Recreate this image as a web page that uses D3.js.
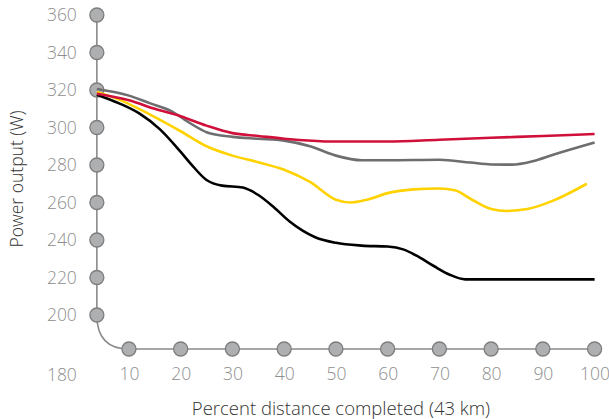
<!DOCTYPE html>
<html><head><meta charset="utf-8">
<script src="https://cdn.jsdelivr.net/npm/d3@7"></script>
<style>
body{margin:0;background:#fff;}
svg text{font-family:"Open Sans","Noto Sans",sans-serif;}
</style></head>
<body><svg id="c" width="609" height="419"></svg>
<script>
const yTicks = [200,220,240,260,280,300,320,340,360];
const xTicks = [10,20,30,40,50,60,70,80,90,100];
const xStart = 3.8;

const blackX = [3.8,8,12,16,20,22,25,28,32,35,38,41,46,50,55,60,63,66,69,72,75,80,90,100];
const blackY = [317.5,313,307.5,299,287,280.5,272,269,268,264,257.5,250,241.5,238.5,237,236.5,235,231,226,221.5,219,219,219,219];
const yellowX = [3.8,8,14,20,25,30,35,40,45,50,53,56,60,65,70,73,76,80,83,87,92,98.5];
const yellowY = [319,315,307,298,290,285,281.5,277.5,271,261.5,260,261.5,265,267,267.5,266.5,262,256.5,255.5,256.5,261,270];
const grayX = [3.8,10,14,18,22,25,30,35,40,45,50,55,60,70,76,80,84,88,92,100];
const grayY = [320.5,317,313,309,302,297.5,295,294,293,290,285,282.5,282.5,282.8,281.3,280.3,280.2,282,285.5,292];
const redX = [3.8,10,15,20,25,30,35,40,50,60,70,80,90,100];
const redY = [318,314.5,310,306,301,297,295.5,294,292.5,292.5,293.5,294.5,295.5,296.5];

const svg = d3.select("#c");
const x = d3.scaleLinear().domain([0,100]).range([77.2,594.6]);
const y = d3.scaleLinear().domain([180,360]).range([352.5,15]);
const axisY = 349;
const x0 = x(xStart);

const labelColor = "#8e8e8e";
const ax = svg.append("g");
ax.append("line").attr("x1",x0).attr("x2",x0).attr("y1",y(360)).attr("y2",y(200))
  .attr("stroke","#8a8a8a").attr("stroke-width",1.6);
ax.append("path").attr("d",`M${x0},${y(200)} Q${x0},${axisY} ${x(10)},${axisY}`)
  .attr("fill","none").attr("stroke","#8a8a8a").attr("stroke-width",1.6);
ax.append("line").attr("x1",x(10)).attr("x2",x(100)).attr("y1",axisY).attr("y2",axisY)
  .attr("stroke","#8a8a8a").attr("stroke-width",1.6);

const gy = svg.append("g").attr("transform",`translate(${x0},0)`)
  .call(d3.axisLeft(y).tickValues([180].concat(yTicks)).tickSize(0).tickPadding(20));
gy.select(".domain").remove();
gy.selectAll("text").attr("font-size",17.5).attr("fill",labelColor).attr("font-weight",300)
  .attr("font-family","'Open Sans',sans-serif");
gy.selectAll(".tick").filter(d=>d===180).attr("transform",`translate(0,${axisY+26})`);

const gx = svg.append("g").attr("transform",`translate(0,${axisY})`)
  .call(d3.axisBottom(x).tickValues(xTicks).tickSize(0).tickPadding(19));
gx.select(".domain").remove();
gx.selectAll("text").attr("font-size",17.5).attr("fill",labelColor).attr("font-weight",300)
  .attr("font-family","'Open Sans',sans-serif");

ax.selectAll("circle.y").data(yTicks).join("circle").attr("class","y")
  .attr("cx",x0).attr("cy",d=>y(d)).attr("r",7)
  .attr("fill","#aeafb1").attr("stroke","#7d7d7d").attr("stroke-width",1.3);
ax.selectAll("circle.x").data(xTicks).join("circle").attr("class","x")
  .attr("cx",d=>x(d)).attr("cy",axisY).attr("r",7)
  .attr("fill","#aeafb1").attr("stroke","#7d7d7d").attr("stroke-width",1.3);

const line = d3.line().x(d=>x(d[0])).y(d=>y(d[1])).curve(d3.curveMonotoneX);
const series = [
  {xs:blackX, ys:blackY, c:"#000000"},
  {xs:yellowX, ys:yellowY, c:"#ffd200"},
  {xs:grayX, ys:grayY, c:"#6e6e70"},
  {xs:redX, ys:redY, c:"#d0103a"}
];
svg.append("g").selectAll("path").data(series).join("path")
  .attr("d",s=>line(s.xs.map((v,i)=>[v,s.ys[i]])))
  .attr("fill","none").attr("stroke",s=>s.c).attr("stroke-width",2.6)
  .attr("stroke-linejoin","round").attr("stroke-linecap","butt");

svg.append("text").attr("transform","translate(23,179) rotate(-90)")
  .attr("text-anchor","middle").attr("font-size",17.5).attr("fill","#333")
  .attr("font-weight",300).text("Power output (W)");
svg.append("text").attr("x",341).attr("y",415)
  .attr("text-anchor","middle").attr("font-size",18.5).attr("fill","#333")
  .attr("font-weight",300).text("Percent distance completed (43 km)");
</script></body></html>
